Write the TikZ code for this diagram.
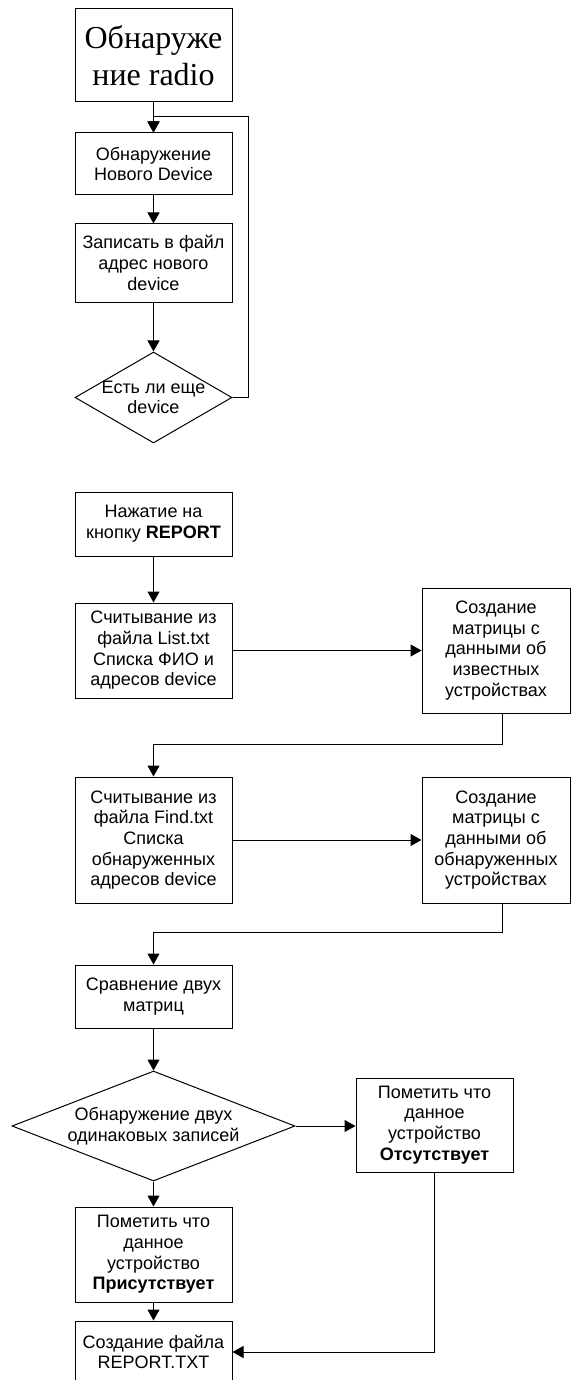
\documentclass[tikz,border=0pt]{standalone}
\usepackage{fontspec}
\setmainfont{Liberation Sans}
\newfontfamily\timesfont{Liberation Serif}
\usetikzlibrary{shapes.geometric,arrows.meta}
\tikzset{
	txt/.style={align=center, font=\fontsize{18}{20.7}\selectfont},
	box/.style={draw, line width=1pt, inner sep=0pt, minimum width=157pt, txt},
	decision/.style={box, shape=diamond},
	arr/.style={line width=1pt, -{Triangle[length=11pt,width=12pt]}}
}
\begin{document}
\begin{tikzpicture}[x=1pt,y=-1pt]
				\def\cx{153.5}
				\useasboundingbox (0,0) rectangle (571,1380);
				% first part
				\node[box, minimum height=93pt, font=\timesfont\fontsize{32}{37}\selectfont] (radio) at (\cx,55.5) {Обнаруже\\ние radio};
				\node[box, minimum height=62pt] (newdev) at (\cx,164) {Обнаружение\\Нового Device};
				\node[box, minimum height=78pt] (write) at (\cx,263) {Записать в файл\\адрес нового\\device};
				\node[decision, minimum height=91pt, label={[txt]center:Есть ли еще\\device}] (more) at (\cx,397.5) {};
				\coordinate (turn) at (248,117);
				\draw[arr] (radio) -- (newdev);
				\draw[arr] (newdev) -- (write);
				\draw[arr] (write) -- (more);
				\draw[arr] (more.east) -| (turn) -- (turn -| newdev.north) -- (newdev.north);
				% second part
				\node[box, minimum height=64pt] (report) at (\cx,524) {Нажатие на\\кнопку \textbf{REPORT}};
				\node[box, minimum height=95pt] (readlist) at (\cx,650.5) {Считывание из\\файла List.txt\\Списка ФИО и\\адресов device};
				\node[box, minimum width=148pt, minimum height=125pt] (matknown) at (496,650.5) {Создание\\матрицы с\\данными об\\известных\\устройствах};
				\node[box, minimum height=126pt] (readfind) at (\cx,840) {Считывание из\\файла Find.txt\\Списка\\обнаруженных\\адресов device};
				\node[box, minimum width=148pt, minimum height=126pt] (matfound) at (496,840) {Создание\\матрицы с\\данными об\\обнаруженных\\устройствах};
				\node[box, minimum height=63pt] (compare) at (\cx,996.5) {Сравнение двух\\матриц};
				\node[decision, minimum width=283pt, minimum height=110pt, label={[txt]center:Обнаружение двух\\одинаковых записей}] (same) at (\cx,1126) {};
				\node[box, minimum height=94pt] (absent) at (434.5,1125) {Пометить что\\данное\\устройство\\\textbf{Отсутствует}};
				\node[box, minimum height=95pt] (present) at (\cx,1254.5) {Пометить что\\данное\\устройство\\\textbf{Присутствует}};
				\node[box, minimum height=62pt] (reportfile) at (\cx,1352) {Создание файла\\REPORT.TXT};
				\draw[arr] (report) -- (readlist);
				\draw[arr] (readlist) -- (matknown);
				\draw[arr] ([xshift=6pt]matknown.south) -- ++(0,31) -| (readfind.north);
				\draw[arr] (readfind) -- (matfound);
				\draw[arr] ([xshift=6pt]matfound.south) -- ++(0,29) -| (compare.north);
				\draw[arr] (compare) -- (same);
				\draw[arr] (same.east) -- (same.east -| absent.west);
				\draw[arr] (same) -- (present);
				\draw[arr] (present) -- (reportfile);
				\draw[arr] (absent.south) |- (reportfile.east);
\end{tikzpicture}
\end{document}
